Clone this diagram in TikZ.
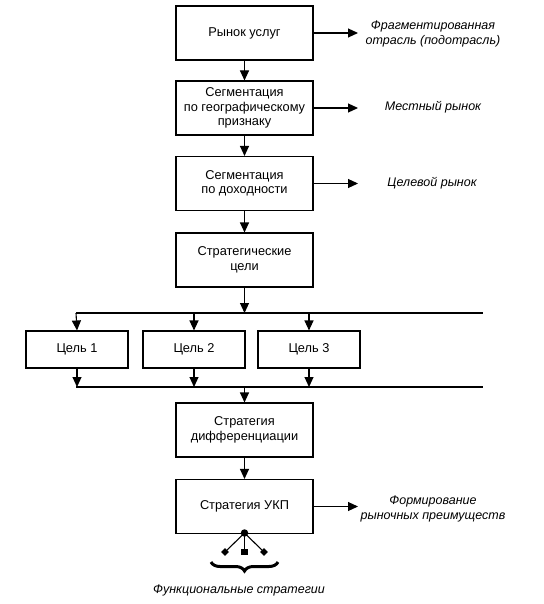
\documentclass[tikz,border=0pt]{standalone}
\usepackage{fontspec}
\setmainfont{Liberation Sans}
\usetikzlibrary{arrows.meta,shapes.geometric,decorations.pathreplacing}
\begin{document}
\begin{tikzpicture}[x=1pt,y=-1pt,
  box/.style={draw,line width=1.1pt,minimum width=137pt,minimum height=54pt,align=center,inner sep=0pt,font=\fontsize{12.8}{14.5}\selectfont},
  goal/.style={box,minimum width=102pt,minimum height=37pt},
  lab/.style={align=center,inner sep=0pt,font=\fontsize{12.5}{15}\selectfont\itshape},
  arr/.style={line width=1.1pt,-{Triangle[length=10pt,width=9pt]}},
  ln/.style={line width=1.1pt},
  dia/.style={diamond,fill=black,inner sep=0pt,minimum size=8pt},
  sq/.style={rectangle,fill=black,inner sep=0pt,minimum size=6.5pt}]
\useasboundingbox (0,0) rectangle (543,604);
% main boxes
\node[box] (b1) at (244.5,33) {Рынок услуг};
\node[box] (b2) at (244.5,108) {Сегментация\\по географическому\\признаку};
\node[box] (b3) at (244.5,183.5) {Сегментация\\по доходности};
\node[box] (b4) at (244.5,260) {Стратегические\\цели};
\node[goal] (g1) at (77,349.5) {Цель 1};
\node[goal] (g2) at (194,349.5) {Цель 2};
\node[goal] (g3) at (309,349.5) {Цель 3};
\node[box] (b5) at (244.5,430) {Стратегия\\дифференциации};
\node[box] (b6) at (244.5,506.5) {Стратегия УКП};
% right labels
\node[lab] (l1) at (433,34) {Фрагментированная\\отрасль (подотрасль)};
\node[lab] (l2) at (433,107) {Местный рынок};
\node[lab] (l3) at (432,183.5) {Целевой рынок};
\node[lab] (l6) at (433,509) {Формирование\\рыночных преимуществ};
\coordinate (e1) at (358,33);
\coordinate (e2) at (358,108);
\coordinate (e3) at (358,183.5);
\coordinate (e6) at (358,506.5);
\draw[arr] (b1.east) -- (e1);
\draw[arr] (b2.east) -- (e2);
\draw[arr] (b3.east) -- (e3);
\draw[arr] (b6.east) -- (e6);
% vertical chain
\draw[arr] (b1) -- (b2);
\draw[arr] (b2) -- (b3);
\draw[arr] (b3) -- (b4);
\draw[arr] (b5) -- (b6);
% top branch line
\coordinate (tl) at (76,313);
\coordinate (tr) at (483,313);
\coordinate (tm) at (244.5,313);
\draw[ln] (tl) -- (tr);
\draw[arr] (b4.south) -- (tm);
\draw[arr] (tl) -- (g1.north);
\draw[arr] (g2.north |- tm) -- (g2.north);
\draw[arr] (g3.north |- tm) -- (g3.north);
% bottom merge line
\coordinate (bl) at (76,387);
\coordinate (br) at (483,387);
\coordinate (bm) at (244.5,387);
\draw[ln] (bl) -- (br);
\draw[arr] (g1.south) -- (g1.south |- bl);
\draw[arr] (g2.south) -- (g2.south |- bl);
\draw[arr] (g3.south) -- (g3.south |- bl);
\draw[arr] (bm) -- (b5.north);
% functional strategies
\node[circle,fill=black,inner sep=0pt,minimum size=7.5pt] (dot) at (244.5,533) {};
\node[dia] (d1) at (225,552) {};
\node[sq] (d2) at (244.5,552) {};
\node[dia] (d3) at (264,552) {};
\draw[ln] (dot.center) -- (d1.center);
\draw[ln] (dot.center) -- (d2.center);
\draw[ln] (dot.center) -- (d3.center);
\coordinate (brR) at (278,562);
\coordinate (brL) at (211,562);
\draw[line width=3pt,decorate,decoration={brace,amplitude=9pt}] (brR) -- (brL);
\node[lab] (fs) at (239,590) {Функциональные стратегии};
\end{tikzpicture}
\end{document}
